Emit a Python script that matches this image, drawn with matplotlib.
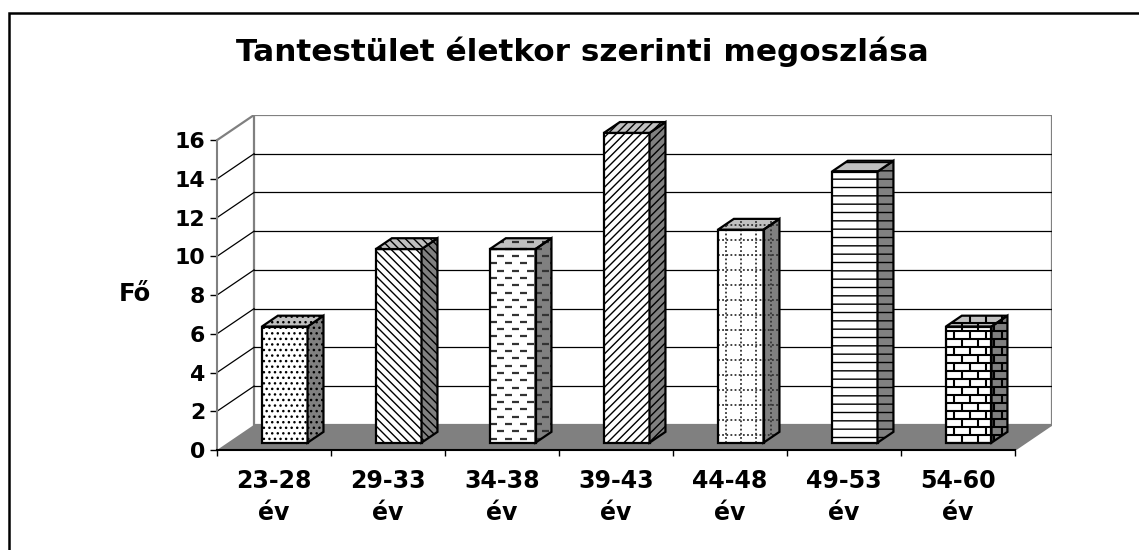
import numpy as np
import matplotlib
matplotlib.use('Agg')
import matplotlib.pyplot as plt
from matplotlib.patches import Polygon, Rectangle
from matplotlib.collections import LineCollection


TITLE = 'Tantestület életkor szerinti megoszlása'
Y_LABEL = 'Fő'
CATEGORIES = ['23-28\név', '29-33\név', '34-38\név', '39-43\név',
              '44-48\név', '49-53\név', '54-60\név']
COUNTS = [6, 10, 10, 16, 11, 14, 6]
Y_TICKS = [0, 2, 4, 6, 8, 10, 12, 14, 16]
# fill pattern of each bar (excel style)
PATTERNS = ['...', '\\\\\\\\', 'dash', '////', 'dotgrid', '--', 'brick']

W, H = 1139, 550
DX, DY = 0.325, 1.3          # depth of the floor, in data units
BAR_W = 0.40
BAR_POS = 0.29               # where the bars stand inside the depth
BAR_DEPTH = 0.43
GRAY = '#808080'
LIGHT = '#c0c0c0'

plt.rcParams['font.family'] = 'DejaVu Sans'
plt.rcParams['font.weight'] = 'bold'
plt.rcParams['hatch.linewidth'] = 1.0


def pattern_segments(kind, xa, xb, ya, yb, px, py):
    segs = []
    if kind == 'dash':
        for r, y in enumerate(np.arange(ya + 4*py, yb, 7.3*py)):
            shift = (r % 2) * 7.5*px
            for x in np.arange(xa - 15*px + shift, xb, 15*px):
                segs.append([(x, y), (x + 7*px, y)])
    elif kind == 'brick':
        for r, y in enumerate(np.arange(ya, yb, 8*py)):
            segs.append([(xa, y), (xb, y)])
            shift = (r % 2) * 8*px
            for x in np.arange(xa + shift, xb, 16*px):
                segs.append([(x, y), (x, y + 8*py)])
    elif kind == 'dotgrid':
        for y in np.arange(ya + 8*py, yb, 15*py):
            segs.append([(xa, y), (xb, y)])
        for x in np.arange(xa + 8*px, xb, 15*px):
            segs.append([(x, ya), (x, yb)])
    return segs


def draw_bar(ax, i, value, pattern, px, py):
    x0 = i + 0.5 - BAR_W/2 + BAR_POS*DX
    y0 = BAR_POS*DY
    x1 = x0 + BAR_W
    ddx, ddy = BAR_DEPTH*DX, BAR_DEPTH*DY
    front = [(x0, y0), (x1, y0), (x1, y0 + value), (x0, y0 + value)]
    side = [(x1, y0), (x1 + ddx, y0 + ddy), (x1 + ddx, y0 + ddy + value), (x1, y0 + value)]
    top = [(x0, y0 + value), (x1, y0 + value), (x1 + ddx, y0 + value + ddy), (x0 + ddx, y0 + value + ddy)]
    faces = [(front, 'white'), (side, GRAY), (top, LIGHT)]

    if pattern in ('dash', 'brick', 'dotgrid'):
        for verts, fc in faces:
            ax.add_patch(Polygon(verts, closed=True, fc=fc, ec='none', zorder=3))
        hexagon = Polygon([(x0, y0), (x1, y0), (x1 + ddx, y0 + ddy), (x1 + ddx, y0 + ddy + value),
                           (x0 + ddx, y0 + ddy + value), (x0, y0 + value)],
                          closed=True, transform=ax.transData)
        segs = pattern_segments(pattern, x0, x1 + ddx, y0, y0 + value + ddy, px, py)
        if pattern == 'dash':
            lc = LineCollection(segs, colors='#333333', linewidths=1.6, zorder=4)
        elif pattern == 'brick':
            lc = LineCollection(segs, colors='black', linewidths=1.5, zorder=4)
        else:
            lc = LineCollection(segs, colors='#333333', linewidths=1.3,
                                linestyles=[(0, (1, 1.3))], zorder=4)
        ax.add_collection(lc)
        lc.set_clip_path(hexagon)
        for verts, fc in faces:
            ax.add_patch(Polygon(verts, closed=True, fill=False, ec='black', lw=1.6, zorder=5))
    else:
        for verts, fc in faces:
            ax.add_patch(Polygon(verts, closed=True, fc=fc, ec='black', lw=1.6,
                                 hatch=pattern, zorder=3))


fig = plt.figure(figsize=(W/100, H/100), dpi=100)
ax = fig.add_axes([217/W, 100/H, (1052 - 217)/W, (450 - 115)/H])
n = len(COUNTS)
ymax = Y_TICKS[-1]
ax.set_xlim(0, n + DX)
ax.set_ylim(0, ymax + DY)
ax.patch.set_visible(False)
px = (n + DX) / (1052 - 217)
py = (ymax + DY) / (450 - 115)

# walls and floor
ax.add_patch(Rectangle((DX, DY), n, ymax, fc='white', ec=GRAY, lw=1.6, zorder=1))
ax.add_patch(Polygon([(0, 0), (n, 0), (n + DX, DY), (DX, DY)], closed=True,
                     fc=GRAY, ec='none', zorder=1.5))
ax.plot([n, n + DX], [0, DY], color=GRAY, lw=1.2, zorder=1.6)
for v in Y_TICKS[1:-1]:
    ax.plot([DX, n + DX], [DY + v, DY + v], color='black', lw=0.9, zorder=1.2)
    ax.plot([0, DX], [v, DY + v], color='black', lw=0.9, zorder=1.2)
ax.plot([0, DX], [ymax, ymax + DY], color=GRAY, lw=1.6, zorder=1.2)

for i, (value, pattern) in enumerate(zip(COUNTS, PATTERNS)):
    draw_bar(ax, i, value, pattern, px, py)

# axes
for side in ('top', 'right'):
    ax.spines[side].set_visible(False)
ax.spines['left'].set_bounds(0, ymax)
ax.spines['left'].set_color(GRAY)
ax.spines['left'].set_linewidth(1.5)
ax.spines['bottom'].set_bounds(0, n)
ax.spines['bottom'].set_color('black')
ax.spines['bottom'].set_linewidth(1.5)

ax.set_yticks(Y_TICKS)
ax.set_yticklabels([str(t) for t in Y_TICKS])
ax.tick_params(axis='y', direction='out', length=5, width=1, color='black',
               labelsize=15.8, pad=3.4)
ax.set_xticks(np.arange(n + 1))
ax.set_xticklabels([])
ax.set_xticks(np.arange(n) + 0.5, minor=True)
ax.set_xticklabels(CATEGORIES, minor=True, linespacing=1.45)
ax.tick_params(axis='x', which='major', direction='out', length=4.5, width=1, color='black')
ax.tick_params(axis='x', which='minor', length=0, labelsize=17, pad=13.5)

fig.text(582/W, 1 - 52/H, TITLE, ha='center', va='center', fontsize=22.4, fontweight='bold')
fig.text(135/W, 1 - 294/H, Y_LABEL, ha='center', va='center', fontsize=17.5, fontweight='bold')

# chart frame
fig.add_artist(Rectangle((9/W, -0.1), 1.2, 1.1 - 13/H, transform=fig.transFigure,
                         fill=False, ec='black', lw=1.8))

fig.savefig('out.png', dpi=100)
